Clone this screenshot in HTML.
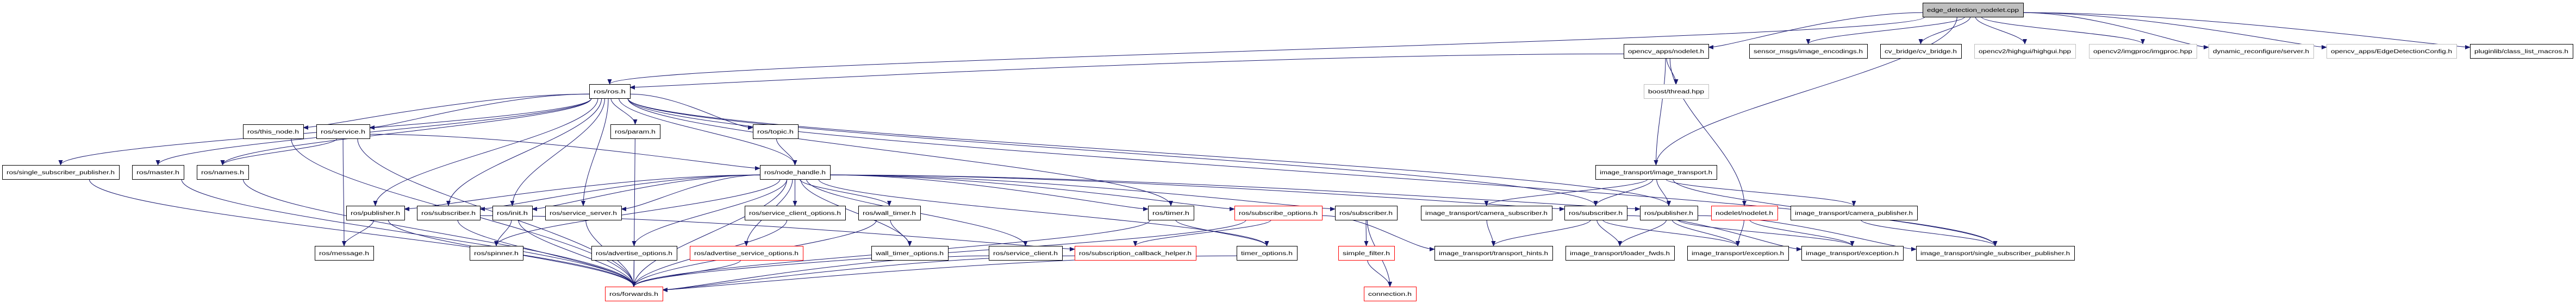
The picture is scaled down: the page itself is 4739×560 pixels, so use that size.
<!DOCTYPE html>
<html><head><meta charset="utf-8">
<style>
html,body{margin:0;padding:0;background:#fff;}
svg{display:block;}
text{font-family:"Liberation Sans",sans-serif;font-size:10px;}
</style></head>
<body>
<svg id="g" xmlns="http://www.w3.org/2000/svg" width="4739" height="560" viewBox="0 0 4739 560">
<defs>
<marker id="a" markerWidth="10" markerHeight="8" refX="9" refY="4" orient="auto" markerUnits="userSpaceOnUse">
<path d="M0,0 L10,4 L0,8 z" fill="#191970"/>
</marker>
</defs>
<g id="edges"></g>
<g id="nodes"></g>
</svg>
<script>
var R=[5,81,155,229,304,379,453,528],H=26;
var N={
edge:[3537,3722,0,"edge_detection_nodelet.cpp","root"],
ocvn:[2987,3143,1,"opencv_apps/nodelet.h"],
sens:[3218,3435,1,"sensor_msgs/image_encodings.h"],
cvb:[3459,3608,1,"cv_bridge/cv_bridge.h"],
hg:[3632,3818,1,"opencv2/highgui/highgui.hpp","gray"],
ip:[3843,4041,1,"opencv2/imgproc/imgproc.hpp","gray"],
dyn:[4063,4256,1,"dynamic_reconfigure/server.h","gray"],
cfg:[4280,4519,1,"opencv_apps/EdgeDetectionConfig.h","gray"],
plug:[4544,4733,1,"pluginlib/class_list_macros.h"],
ros:[1084,1159,2,"ros/ros.h"],
boost:[3024,3143,2,"boost/thread.hpp","gray"],
thisn:[447,558,3,"ros/this_node.h"],
serv:[582,680,3,"ros/service.h"],
param:[1123,1214,3,"ros/param.h"],
topic:[1385,1468,3,"ros/topic.h"],
ssp:[4,219,4,"ros/single_subscriber_publisher.h"],
master:[243,338,4,"ros/master.h"],
names:[362,457,4,"ros/names.h"],
nh:[1398,1527,4,"ros/node_handle.h"],
it:[2935,3158,4,"image_transport/image_transport.h"],
pub1:[637,744,5,"ros/publisher.h"],
sub1:[767,883,5,"ros/subscriber.h"],
init:[906,979,5,"ros/init.h"],
ss:[1003,1143,5,"ros/service_server.h"],
sco:[1370,1555,5,"ros/service_client_options.h"],
wt:[1579,1693,5,"ros/wall_timer.h"],
timer:[2112,2196,5,"ros/timer.h"],
so:[2271,2432,5,"ros/subscribe_options.h","red"],
sub2:[2456,2570,5,"ros/subscriber.h"],
csub:[2614,2855,5,"image_transport/camera_subscriber.h"],
sub3:[2878,2993,5,"ros/subscriber.h"],
pub2:[3017,3123,5,"ros/publisher.h"],
nn:[3148,3270,5,"nodelet/nodelet.h","red"],
cpub:[3294,3527,5,"image_transport/camera_publisher.h"],
msg:[579,687,6,"ros/message.h"],
spin:[864,962,6,"ros/spinner.h"],
ao:[1088,1245,6,"ros/advertise_options.h"],
aso:[1269,1477,6,"ros/advertise_service_options.h","red"],
wto:[1603,1744,6,"wall_timer_options.h"],
sc:[1819,1954,6,"ros/service_client.h"],
scb:[1977,2200,6,"ros/subscription_callback_helper.h","red"],
to:[2275,2386,6,"timer_options.h"],
sf:[2462,2565,6,"simple_filter.h","red"],
th:[2639,2856,6,"image_transport/transport_hints.h"],
lf:[2880,3080,6,"image_transport/loader_fwds.h"],
ex1:[3104,3290,6,"image_transport/exception.h"],
ex2:[3314,3501,6,"image_transport/exception.h"],
itssp:[3525,3816,6,"image_transport/single_subscriber_publisher.h"],
fw:[1113,1219,7,"ros/forwards.h","red"],
conn:[2509,2605,7,"connection.h","red"]
};
var E=[
["edge","ocvn"],["edge","ros"],["edge","sens"],["edge","cvb"],["edge","hg"],["edge","ip"],["edge","dyn"],["edge","cfg"],["edge","plug"],["edge","it"],
["ocvn","ros"],["ocvn","boost"],["ocvn","it"],["ocvn","nn"],
["ros","ssp"],["ros","master"],["ros","names"],["ros","thisn"],["ros","serv"],["ros","param"],["ros","topic"],["ros","nh"],["ros","pub1"],["ros","sub1"],["ros","init"],["ros","ss"],["ros","itssp"],["ros","sub3"],["ros","pub2"],["ros","timer"],
["thisn","fw"],["serv","names"],["serv","msg"],["serv","fw"],["serv","nh"],["master","fw"],["names","fw"],["ssp","fw"],["param","fw"],["topic","nh"],
["nh","pub1"],["nh","sub1"],["nh","init"],["nh","ss"],["nh","spin"],["nh","ao"],["nh","aso"],["nh","sco"],["nh","wt"],["nh","wto"],["nh","sc"],["nh","timer"],["nh","so"],["nh","to"],["nh","sub2"],["nh","fw"],["nh","sub3"],["nh","pub2"],
["pub1","msg"],["pub1","fw"],["sub1","fw"],["sub1","scb"],["init","spin"],["init","fw"],["ss","fw"],["ao","fw"],["aso","fw"],["sco","fw"],["wt","wto"],["wt","fw"],["sc","fw"],["scb","fw"],["timer","to"],["timer","fw"],["so","scb"],["so","fw"],["so","th"],["to","fw"],
["sub2","sf"],["sub2","conn"],["sf","conn"],
["it","csub"],["it","sub3"],["it","pub2"],["it","cpub"],["it","itssp"],
["csub","th"],["sub3","th"],["sub3","lf"],["sub3","ex1"],["sub3","ex2"],["pub2","lf"],["pub2","ex1"],["pub2","ex2"],["pub2","itssp"],["nn","ex1"],["nn","ex2"],["cpub","itssp"]
];
var ns="http://www.w3.org/2000/svg";
var ge=document.getElementById("edges"),gn=document.getElementById("nodes");
function cx(n){return (n[0]+n[1])/2;}
E.forEach(function(e){
 var s=N[e[0]],t=N[e[1]],d;
 var sy=R[s[2]]+H,ty=R[t[2]];
 var sx=cx(s),tx=cx(t);
 var dy=ty-sy;
 var gap=(tx>sx)?(t[0]-s[1]):(s[0]-t[1]);
 if(gap>4*dy && (t[2]-s[2])==1){
   // end on near side of target
   var right=tx<sx;
   var ex=right?t[1]:t[0];
   var ey=ty+6;
   var stx=right?s[0]:s[1];
   var sty=R[s[2]]+H*0.7;
   d="M"+stx+","+sty+" C"+(stx+(ex-stx)*0.4)+","+sty+" "+(ex+(right?40:-40))+","+ey+" "+ex+","+ey;
 } else {
   var w=s[1]-s[0];
   var off=Math.max(-w/2+4,Math.min(w/2-4,(tx-sx)*0.05));
   sx=sx+off;
   d="M"+sx+","+sy+" C"+sx+","+(sy+dy*0.35)+" "+tx+","+(ty-dy*0.35)+" "+tx+","+ty;
 }
 var p=document.createElementNS(ns,"path");
 p.setAttribute("d",d);p.setAttribute("fill","none");p.setAttribute("stroke","#191970");
 p.setAttribute("stroke-width","1");p.setAttribute("marker-end","url(#a)");
 ge.appendChild(p);
});
for(var k in N){
 var n=N[k],y=R[n[2]];
 var r=document.createElementNS(ns,"rect");
 r.setAttribute("x",n[0]+0.5);r.setAttribute("y",y+0.5);
 r.setAttribute("width",n[1]-n[0]);r.setAttribute("height",H);
 var st="#000",fill="#fff";
 if(n[4]=="gray"){st="#bfbfbf";}
 if(n[4]=="red"){st="#ff0000";}
 if(n[4]=="root"){fill="#bfbfbf";}
 r.setAttribute("fill",fill);r.setAttribute("stroke",st);r.setAttribute("stroke-width","1");
 gn.appendChild(r);
 var t=document.createElementNS(ns,"text");
 t.setAttribute("x",cx(n));t.setAttribute("y",y+17);
 t.setAttribute("text-anchor","middle");
 t.setAttribute("textLength",(n[1]-n[0])-16);
 t.setAttribute("lengthAdjust","spacingAndGlyphs");
 t.textContent=n[3];
 gn.appendChild(t);
}
</script>
</body></html>
